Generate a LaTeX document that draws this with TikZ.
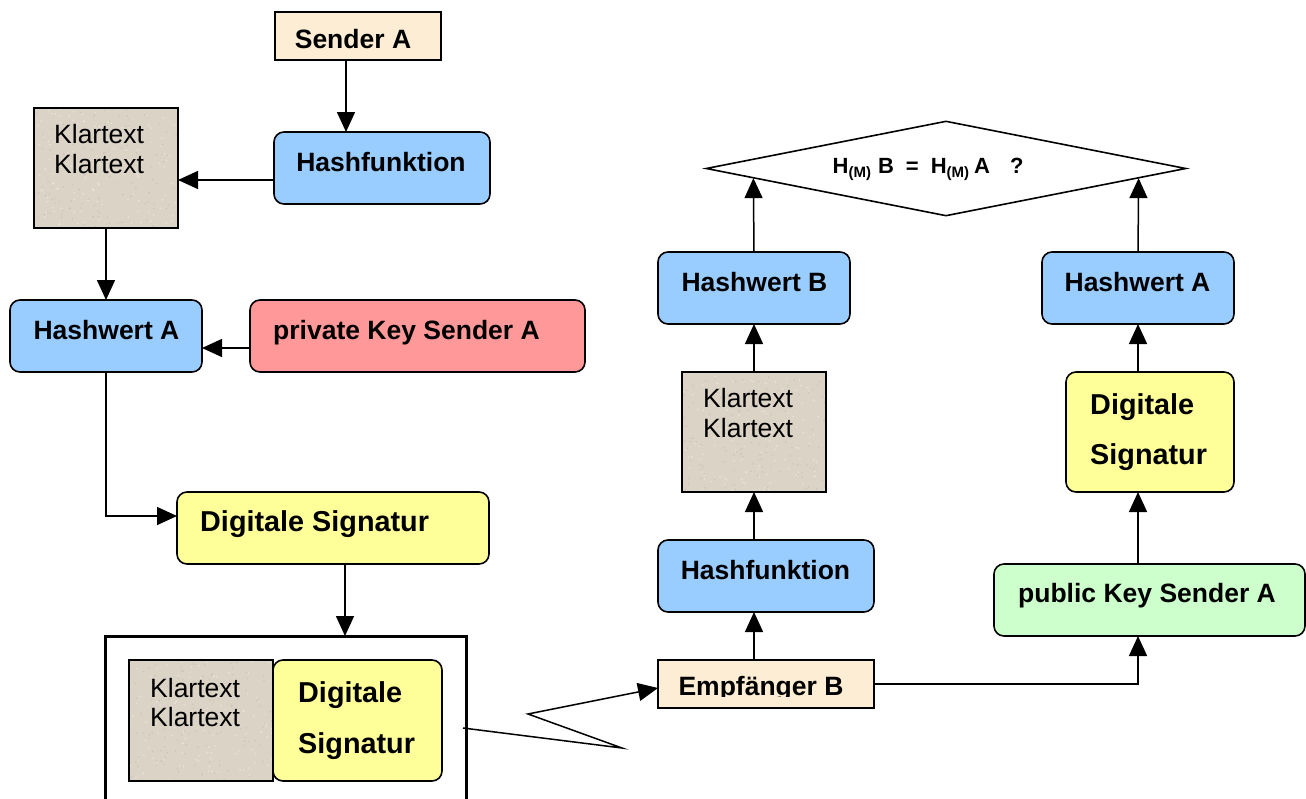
\documentclass[tikz,border=0pt]{standalone}
\usepackage{fontspec}
\setmainfont{Liberation Sans}
\usetikzlibrary{arrows.meta,shapes.geometric,calc}

\definecolor{parchment}{RGB}{253,237,212}
\definecolor{hashblue}{RGB}{153,204,255}
\definecolor{keyred}{RGB}{255,153,153}
\definecolor{sigyellow}{RGB}{255,255,153}
\definecolor{keygreen}{RGB}{204,255,204}
\definecolor{granite}{RGB}{220,211,199}
\definecolor{granitedark}{RGB}{190,178,163}
\definecolor{granitelight}{RGB}{240,235,228}

% lowered small index, e.g. H_(M)
\newcommand\hsub[1]{\raisebox{-4.5pt}{\fontsize{15}{15}\selectfont #1}}

% stone-like speckles inside the rectangle (#1,#2)--(#3,#4)
\newcommand\speckle[4]{%
  \begin{scope}
    \clip (#1,#2) rectangle (#3,#4);
    \foreach \i in {1,...,260}{%
      \pgfmathsetmacro\sx{#1+rnd*(#3-#1)}%
      \pgfmathsetmacro\sy{#2+rnd*(#4-#2)}%
      \ifodd\i
        \fill[granitedark,opacity=0.55] (\sx,\sy) circle (0.8pt);
      \else
        \fill[granitelight,opacity=0.7] (\sx,\sy) circle (0.9pt);
      \fi
    }
  \end{scope}}

\begin{document}
\begin{tikzpicture}[x=1pt,y=-1pt,
  frame/.style={draw=black,line width=1.6pt,inner sep=0pt,outer sep=0pt},
  plainbox/.style={frame,rectangle},
  roundbox/.style={frame,rounded corners=10pt},
  lbl/.style={anchor=base,inner sep=0pt,font=\bfseries\fontsize{26.5}{30}\selectfont},
  siglbl/.style={anchor=base west,inner sep=0pt,font=\bfseries\fontsize{28.8}{30}\selectfont},
  plain/.style={anchor=base west,inner sep=0pt,font=\fontsize{26.5}{30}\selectfont},
  conn/.style={line width=1.5pt,-{Triangle[length=20pt,width=18pt]}},
]
\pgfmathsetseed{7}
\useasboundingbox (0,0) rectangle (1306,798);

% ---------------- sender side ----------------
\node[plainbox,fill=parchment,minimum width=166pt,minimum height=48pt] (sa) at (358,36) {};
\node[lbl] (sa-t) at (353,48) {Sender A};

\node[roundbox,fill=hashblue,minimum width=216pt,minimum height=72pt] (hf1) at (382,168) {};
\node[lbl] (hf1-t) at (381,171) {Hashfunktion};

\node[plainbox,fill=granite,minimum width=144pt,minimum height=120pt] (kt1) at (106,168) {};
\speckle{34}{108}{178}{228}
\draw[line width=1.6pt] (kt1.south west) rectangle (kt1.north east);
\node[plain] (kt1-a) at (54,143) {Klartext};
\node[plain] (kt1-b) at (54,173) {Klartext};

\node[roundbox,fill=hashblue,minimum width=192pt,minimum height=72pt] (ha1) at (106,336) {};
\node[lbl] (ha1-t) at (106.5,339) {Hashwert A};

\node[roundbox,fill=keyred,minimum width=335pt,minimum height=72pt] (pk) at (417.5,336) {};
\node[lbl] (pk-t) at (406.5,339) {private Key Sender A};

\node[roundbox,fill=sigyellow,minimum width=312pt,minimum height=72pt] (ds1) at (333,528) {};
\node[siglbl] (ds1-t) at (200,531) {Digitale Signatur};

% signed message: plain text plus signature
\node[frame,line width=3pt,minimum width=361pt,minimum height=184pt] (big) at (285.5,728) {};
\node[plainbox,fill=granite,minimum width=144pt,minimum height=121pt] (kt2) at (201,720.5) {};
\speckle{129}{660}{273}{781}
\draw[line width=1.6pt] (kt2.south west) rectangle (kt2.north east);
\node[plain] (kt2-a) at (150,697) {Klartext};
\node[plain] (kt2-b) at (150,726) {Klartext};
\node[roundbox,fill=sigyellow,minimum width=169pt,minimum height=121pt] (ds2) at (357.5,720.5) {};
\node[siglbl] (ds2-a) at (298,702) {Digitale};
\node[siglbl] (ds2-b) at (298,753) {Signatur};

% ---------------- receiver side ----------------
\node[plainbox,fill=parchment,minimum width=216pt,minimum height=48pt] (eb) at (766,684) {};
\begin{scope}
  \clip (658,660) rectangle (874,696);
  \node[lbl] (eb-t) at (761,695) {Empfänger B};
\end{scope}

\node[roundbox,fill=hashblue,minimum width=216pt,minimum height=72pt] (hf2) at (766,576) {};
\node[lbl] (hf2-t) at (765.5,579) {Hashfunktion};

\node[plainbox,fill=granite,minimum width=144pt,minimum height=120pt] (kt3) at (754,432) {};
\speckle{682}{372}{826}{492}
\draw[line width=1.6pt] (kt3.south west) rectangle (kt3.north east);
\node[plain] (kt3-a) at (703,407) {Klartext};
\node[plain] (kt3-b) at (703,437) {Klartext};

\node[roundbox,fill=hashblue,minimum width=192pt,minimum height=72pt] (hb) at (754,288) {};
\node[lbl] (hb-t) at (754.5,291) {Hashwert B};

\node[roundbox,fill=keygreen,minimum width=311pt,minimum height=72pt] (pk2) at (1149.5,600) {};
\node[lbl] (pk2-t) at (1147,602) {public Key Sender A};

\node[roundbox,fill=sigyellow,minimum width=168pt,minimum height=120pt] (ds3) at (1150,432) {};
\node[siglbl] (ds3-a) at (1090,414) {Digitale};
\node[siglbl] (ds3-b) at (1090,464) {Signatur};

\node[roundbox,fill=hashblue,minimum width=192pt,minimum height=72pt] (ha2) at (1138,288) {};
\node[lbl] (ha2-t) at (1137.5,291) {Hashwert A};

% comparison of both hash values
\node[diamond,draw,line width=1.6pt,fill=white,minimum width=480pt,minimum height=95pt,inner sep=0pt] (q) at (946,168.5) {};
\node[anchor=base west,inner sep=0pt,font=\bfseries\fontsize{22}{26}\selectfont] (q-t) at (832.5,173)
  {H\hsub{(M)}\hspace{7pt}B\hspace{12pt}=\hspace{12pt}H\hsub{(M)}\hspace{5pt}A\hspace{20pt}?};

% ---------------- connectors ----------------
\draw[conn] ([xshift=-12pt]sa.south) -- ([xshift=-12pt]sa.south |- hf1.north);
\draw[conn] ([yshift=-12pt]hf1.west) -- ([yshift=-12pt]hf1.west -| kt1.east);
\draw[conn] (kt1.south) -- (ha1.north);
\draw[conn] ([yshift=-12pt]pk.west) -- ([yshift=-12pt]pk.west -| ha1.east);
\draw[conn] (ha1.south) |- ([yshift=12pt]ds1.west);
\draw[conn] ([xshift=12pt]ds1.south) -- ([xshift=12pt]ds1.south |- big.north);

\coordinate (z1) at (622,748);
\coordinate (z2) at (528,714);
\draw[conn] ([xshift=-3pt]big.east) -- (z1) -- (z2) -- ([yshift=-4pt]eb.west);

\draw[conn] ([xshift=-12pt]eb.north) -- ([xshift=-12pt]eb.north |- hf2.south);
\draw[conn] ([xshift=-12pt]hf2.north) -- (kt3.south);
\draw[conn] (kt3.north) -- (hb.south);
\draw[conn] (hb.north) -- ($(q.west)!0.2!(q.south)$);

\draw[conn] (eb.east) -| ([xshift=-11.5pt]pk2.south);
\draw[conn] ([xshift=-11.5pt]pk2.north) -- ([xshift=-11.5pt]pk2.north |- ds3.south);
\draw[conn] ([xshift=-12pt]ds3.north) -- (ha2.south);
\draw[conn] (ha2.north) -- ($(q.east)!0.2!(q.south)$);
\end{tikzpicture}
\end{document}
